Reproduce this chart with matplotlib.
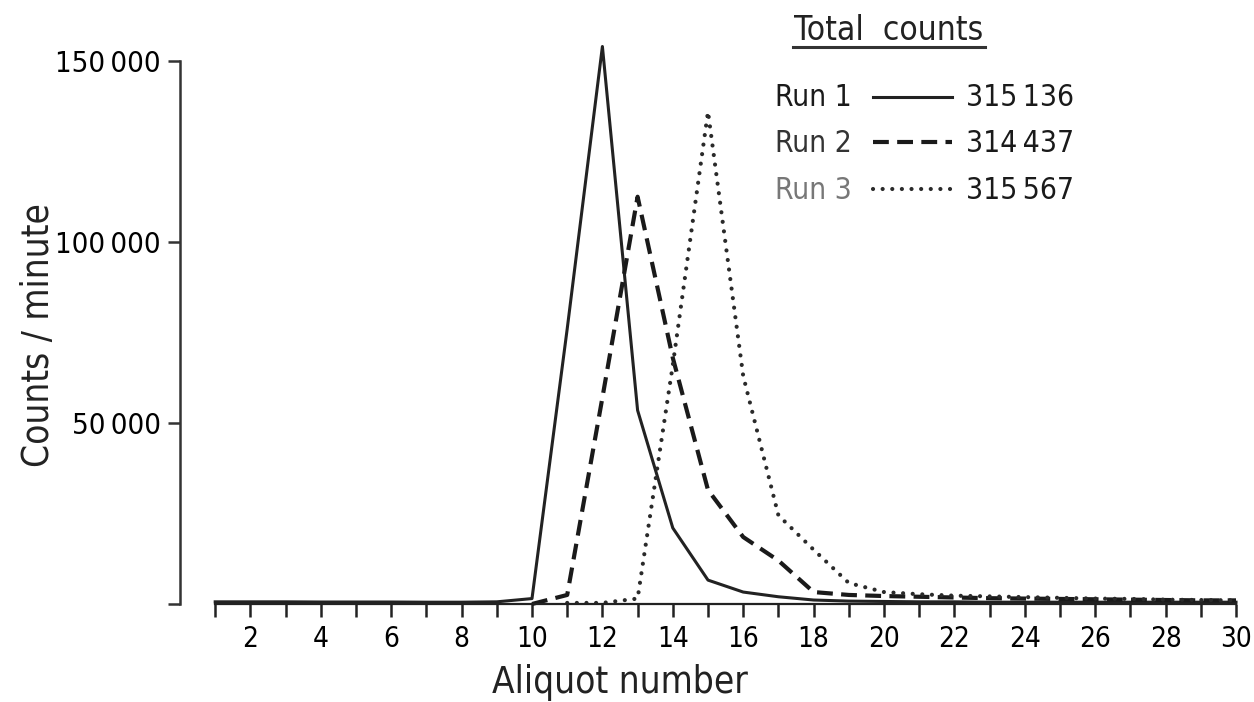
import matplotlib
matplotlib.use('Agg')
from matplotlib import pyplot as plt
from matplotlib.lines import Line2D

plt.rcParams['font.family'] = ['DejaVu Sans']
plt.rcParams['font.stretch'] = 'condensed'

# aliquot numbers and counts per minute
aliquot_run1 = list(range(1, 31))
counts_run1 = [600, 600, 600, 550, 550, 550, 500, 500, 600, 1500,
               76000, 154000, 53500, 21000, 6600, 3300, 2000, 1100, 800, 700,
               600, 600, 500, 500, 500, 500, 500, 500, 500, 500]

aliquot_run2 = list(range(10, 31))
counts_run2 = [0, 2500, 57000, 112500, 68000, 31500, 18500, 12000, 3300, 2500,
               2200, 2000, 1800, 1600, 1500, 1400, 1300, 1200, 1100, 1000, 1000]

aliquot_run3 = list(range(11, 31))
counts_run3 = [300, 300, 1500, 66000, 136000, 63000, 24500, 15000, 5800, 3300,
               2700, 2300, 2100, 1900, 1700, 1500, 1400, 1200, 1100, 1000]

run_names = ['Run 1', 'Run 2', 'Run 3']
total_counts = ['315\u2009136', '314\u2009437', '315\u2009567']

x_ticks = list(range(1, 31))
x_labels = [str(n) if n % 2 == 0 else '' for n in x_ticks]
y_ticks = [0, 50000, 100000, 150000]
y_labels = ['', '50\u2009000', '100\u2009000', '150\u2009000']

W, H = 1254, 702


def fx(px):
    return px / W


def fy(py):
    return 1 - py / H


fig = plt.figure(figsize=(W / 100, H / 100), dpi=100)
ax = fig.add_axes([fx(180), fy(604), (1236 - 180) / W, (604 - 36) / H])
ax.set_xlim(0, 30)
ax.set_ylim(0, 156900)

styles = [
    dict(color='#222222', lw=2.2, ls='-'),
    dict(color='#1a1a1a', lw=3.0, ls=(0, (3.8, 2.0))),
    dict(color='#2a2a2a', lw=3.0, ls=(0, (0.01, 2.3)), dash_capstyle='round'),
]
ax.plot(aliquot_run1, counts_run1, clip_on=False, **styles[0])
ax.plot(aliquot_run2, counts_run2, clip_on=False, **styles[1])
ax.plot(aliquot_run3, counts_run3, clip_on=False, **styles[2])

for s in ['top', 'right']:
    ax.spines[s].set_visible(False)
ax.spines['left'].set_bounds(0, 150000)
ax.spines['bottom'].set_bounds(1, 30)
ax.spines['left'].set_linewidth(1.8)
ax.spines['bottom'].set_linewidth(1.6)
ax.spines['left'].set_color('#333333')
ax.spines['bottom'].set_color('#222222')

ax.set_xticks(x_ticks)
ax.set_xticklabels(x_labels)
ax.set_yticks(y_ticks)
ax.set_yticklabels(y_labels)
ax.tick_params(axis='x', direction='out', length=9, width=1.8, pad=6,
               labelsize=20, color='#222222')
ax.tick_params(axis='y', direction='out', length=9, width=1.8, pad=5,
               labelsize=21, color='#333333')

ax.text(-0.134, 0.474, 'Counts / minute', rotation=90, ha='center', va='center',
        fontsize=26.5, color='#222222', transform=ax.transAxes)
ax.text(0.417, -0.139, 'Aliquot number', ha='center', va='center',
        fontsize=26.5, color='#222222', transform=ax.transAxes)

# legend block
fig.text(fx(889), fy(30), 'Total  counts', ha='center', va='center',
         fontsize=24, color='#222222')
fig.add_artist(Line2D([fx(793), fx(985)], [fy(47), fy(47)], color='#333333', lw=2.2))
row_y = [98, 143, 190]
text_colors = ['#1a1a1a', '#333333', '#777777']
for i in range(3):
    fig.text(fx(775), fy(row_y[i]), run_names[i], ha='left', va='center',
             fontsize=21.5, color=text_colors[i])
    fig.add_artist(Line2D([fx(873), fx(952)], [fy(row_y[i] - 1), fy(row_y[i] - 1)],
                          **styles[i]))
    fig.text(fx(966), fy(row_y[i]), total_counts[i], ha='left', va='center',
             fontsize=21.5, color='#1a1a1a')

fig.savefig('out.png', dpi=100)
